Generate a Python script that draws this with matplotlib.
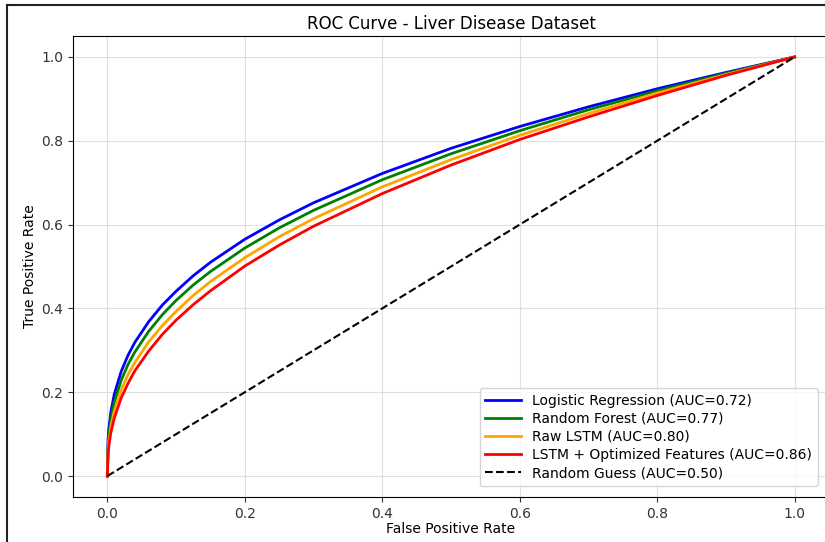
import matplotlib
matplotlib.use("Agg")
import matplotlib.pyplot as plt
from matplotlib.lines import Line2D

# False positive rate grid (read positions)
fpr = [0.0, 0.001, 0.002, 0.005, 0.01, 0.02, 0.03, 0.04, 0.06, 0.08, 0.1, 0.125,
       0.15, 0.2, 0.25, 0.3, 0.4, 0.5, 0.6, 0.7, 0.8, 0.9, 1.0]

tpr_logreg = [0.0, 0.086, 0.110, 0.152, 0.195, 0.249, 0.288, 0.319, 0.368, 0.408, 0.441, 0.478,
              0.510, 0.565, 0.611, 0.652, 0.722, 0.782, 0.834, 0.881, 0.924, 0.963, 1.0]
tpr_rf = [0.0, 0.073, 0.095, 0.135, 0.175, 0.228, 0.266, 0.296, 0.345, 0.385, 0.419, 0.456,
          0.488, 0.544, 0.592, 0.634, 0.707, 0.769, 0.824, 0.874, 0.919, 0.961, 1.0]
tpr_lstm = [0.0, 0.061, 0.081, 0.117, 0.155, 0.205, 0.242, 0.271, 0.320, 0.359, 0.393, 0.431,
            0.464, 0.521, 0.571, 0.614, 0.690, 0.755, 0.813, 0.865, 0.914, 0.958, 1.0]
tpr_opt = [0.0, 0.051, 0.069, 0.103, 0.138, 0.186, 0.221, 0.251, 0.298, 0.338, 0.372, 0.409,
           0.442, 0.501, 0.551, 0.596, 0.674, 0.742, 0.803, 0.857, 0.908, 0.956, 1.0]

labels = ["Logistic Regression (AUC=0.72)", "Random Forest (AUC=0.77)",
          "Raw LSTM (AUC=0.80)", "LSTM + Optimized Features (AUC=0.86)",
          "Random Guess (AUC=0.50)"]
colors = ["blue", "green", "orange", "red"]
diag = [0.0, 1.0]

fig = plt.figure(figsize=(8.25, 5.42), dpi=100)
W, H = 825, 542
ax = fig.add_axes([73 / W, 45 / H, (829 - 73) / W, (497 - 36) / H])

for y, c, lab in zip([tpr_logreg, tpr_rf, tpr_lstm, tpr_opt], colors, labels[:4]):
    ax.plot(fpr, y, color=c, lw=2, label=lab)
ax.plot(diag, diag, "k--", lw=1.5, label=labels[4])

ax.set_xlim(-0.05, 1.05)
ax.set_ylim(-0.05, 1.05)
ax.set_xticks([0.0, 0.2, 0.4, 0.6, 0.8, 1.0])
ax.set_yticks([0.0, 0.2, 0.4, 0.6, 0.8, 1.0])
ax.tick_params(colors="#333333", labelcolor="#333333")
ax.grid(True, color="#cccccc", alpha=0.6, lw=0.8)
ax.set_title("ROC Curve - Liver Disease Dataset", fontsize=12, pad=5)
ax.set_xlabel("False Positive Rate", labelpad=1)
ax.set_ylabel("True Positive Rate", labelpad=3)
ax.legend(loc="lower right", fontsize=10, handlelength=2.6, labelspacing=0.3,
          borderaxespad=0.8)

# screenshot frame (left and top edges)
fig.add_artist(Line2D([7 / W, 7 / W], [0, 1 - 5 / H], transform=fig.transFigure,
                      color="#222222", lw=1.5))
fig.add_artist(Line2D([7 / W, 1], [1 - 5 / H, 1 - 5 / H], transform=fig.transFigure,
                      color="#222222", lw=1.5))

fig.savefig("out.png", dpi=100)
